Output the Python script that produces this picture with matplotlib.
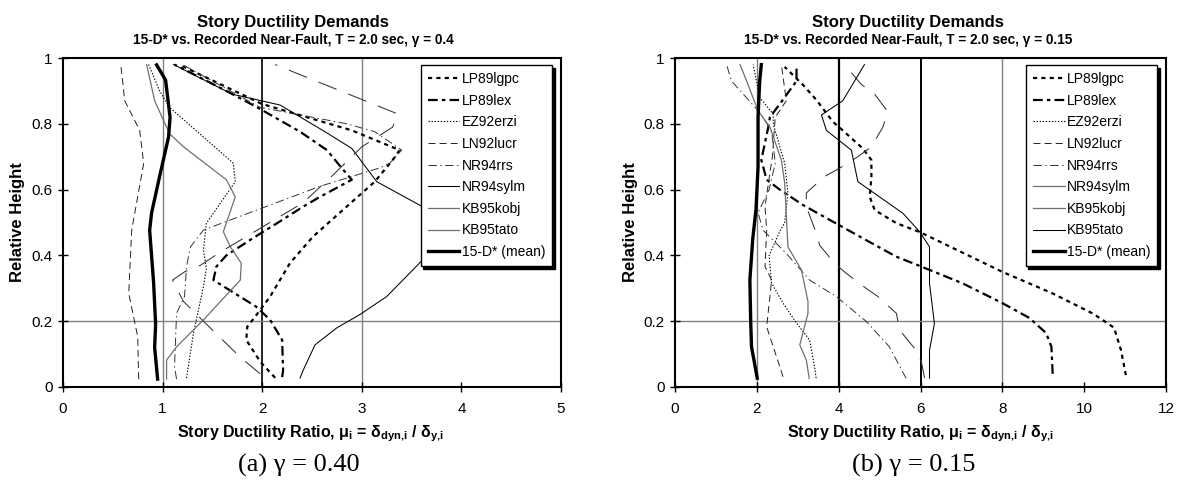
# story ductility demand profiles, two panels (gamma = 0.40 and 0.15)

import numpy as np
import matplotlib
matplotlib.use('Agg')
import matplotlib.pyplot as plt
from matplotlib.lines import Line2D

plt.rcParams['font.family'] = ['Liberation Sans', 'DejaVu Sans']
plt.rcParams['lines.scale_dashes'] = False
plt.rcParams['mathtext.fontset'] = 'custom'
plt.rcParams['mathtext.rm'] = 'Liberation Sans'
plt.rcParams['mathtext.bf'] = 'Liberation Sans:bold'

records = ['LP89lgpc', 'LP89lex', 'EZ92erzi', 'LN92lucr', 'NR94rrs',
           'NR94sylm', 'KB95kobj', 'KB95tato', '15-D* (mean)']

# ---- panel (a), gamma = 0.40 : ductility ratio (mu) vs relative height (h)
a_lgpc_mu = [2.13, 1.98, 1.84, 1.85, 1.98, 2.08, 2.28, 2.51, 2.78, 3.13, 3.31, 3.38, 2.9, 2.0, 1.2]
a_lgpc_h = [0.028, 0.077, 0.143, 0.183, 0.234, 0.275, 0.377, 0.457, 0.53, 0.624, 0.69, 0.72, 0.78, 0.86, 0.975]
a_lex_mu = [2.2, 2.21, 2.2, 2.08, 1.94, 1.51, 1.54, 1.64, 1.91, 2.15, 2.41, 2.58, 2.9, 2.8, 2.65, 2.38, 1.95, 1.64, 1.12]
a_lex_h = [0.03, 0.05, 0.143, 0.204, 0.244, 0.325, 0.366, 0.40, 0.453, 0.498, 0.548, 0.578, 0.63, 0.665, 0.72, 0.776, 0.85, 0.9, 0.98]
a_erzi_mu = [1.24, 1.31, 1.41, 1.44, 1.41, 1.44, 1.73, 1.71, 1.07, 0.97, 0.86]
a_erzi_h = [0.027, 0.164, 0.305, 0.36, 0.416, 0.498, 0.624, 0.68, 0.85, 0.9, 0.98]
a_lucr_mu = [0.76, 0.75, 0.66, 0.69, 0.81, 0.77, 0.62, 0.58]
a_lucr_h = [0.024, 0.153, 0.285, 0.477, 0.68, 0.78, 0.87, 0.98]
a_rrs_mu = [1.14, 1.12, 1.14, 1.22, 1.24, 1.28, 1.41, 2.58, 3.18, 3.28, 3.4, 3.13, 2.85, 1.98, 1.2]
a_rrs_h = [0.024, 0.062, 0.224, 0.275, 0.366, 0.426, 0.477, 0.61, 0.666, 0.68, 0.72, 0.776, 0.80, 0.85, 0.98]
a_sylm_mu = [2.38, 2.41, 2.53, 2.75, 2.98, 3.25, 3.61, 4.3, 3.61, 3.15, 2.9, 2.63, 2.18, 1.7, 1.11]
a_sylm_h = [0.027, 0.05, 0.128, 0.18, 0.22, 0.275, 0.386, 0.47, 0.548, 0.624, 0.725, 0.776, 0.857, 0.89, 0.98]
a_kobj_mu = [1.04, 1.04, 1.14, 1.41, 1.78, 1.79, 1.68, 1.61, 1.73, 1.64, 1.21, 1.07, 0.92, 0.84]
a_kobj_h = [0.024, 0.082, 0.122, 0.204, 0.325, 0.376, 0.426, 0.472, 0.578, 0.63, 0.73, 0.77, 0.87, 0.98]
a_tato_mu = [1.98, 1.79, 1.68, 1.41, 1.21, 1.14, 1.1, 1.22, 1.38, 1.58, 2.41, 2.71, 3.0, 3.31, 3.36, 2.13]
a_tato_h = [0.04, 0.088, 0.12, 0.2, 0.26, 0.30, 0.325, 0.35, 0.37, 0.41, 0.56, 0.644, 0.73, 0.79, 0.83, 0.98]
a_mean_mu = [0.95, 0.92, 0.93, 0.91, 0.87, 0.89, 0.97, 1.06, 1.075, 1.03, 0.94]
a_mean_h = [0.024, 0.12, 0.19, 0.316, 0.477, 0.53, 0.64, 0.76, 0.82, 0.933, 0.979]

# ---- panel (b), gamma = 0.15
b_lgpc_mu = [11.02, 10.9, 10.73, 10.45, 10.2, 9.22, 8.0, 6.0, 5.41, 4.88, 4.76, 4.8, 4.8, 4.59, 4.1, 3.86, 3.46, 3.13, 2.68]
b_lgpc_h = [0.036, 0.112, 0.18, 0.204, 0.224, 0.285, 0.35, 0.47, 0.498, 0.538, 0.578, 0.64, 0.69, 0.725, 0.78, 0.806, 0.872, 0.918, 0.973]
b_lex_mu = [9.23, 9.2, 9.07, 8.66, 8.0, 7.03, 5.98, 5.41, 4.59, 3.78, 3.13, 2.56, 2.24, 2.11, 2.28, 2.32, 2.56, 2.97, 2.97]
b_lex_h = [0.04, 0.122, 0.164, 0.21, 0.255, 0.315, 0.368, 0.396, 0.452, 0.508, 0.553, 0.6, 0.63, 0.69, 0.79, 0.82, 0.86, 0.93, 0.98]
b_erzi_mu = [3.45, 3.41, 3.29, 2.97, 2.64, 2.36, 2.3, 2.55, 2.68, 2.76, 2.68, 2.4, 2.4, 2.07, 1.91]
b_erzi_h = [0.027, 0.062, 0.143, 0.194, 0.255, 0.316, 0.4, 0.47, 0.5, 0.59, 0.68, 0.8, 0.83, 0.88, 0.98]
b_lucr_mu = [2.64, 2.56, 2.24, 2.32, 2.36, 2.2, 2.24, 2.2, 2.38, 2.45, 2.72, 2.6]
b_lucr_h = [0.031, 0.062, 0.183, 0.275, 0.325, 0.366, 0.477, 0.55, 0.7, 0.82, 0.87, 0.98]
b_rrs_mu = [5.65, 5.24, 4.67, 3.94, 3.29, 2.72, 2.15, 2.03, 2.3, 2.45, 2.36, 2.03, 1.38, 1.26]
b_rrs_h = [0.026, 0.122, 0.2, 0.275, 0.325, 0.406, 0.477, 0.53, 0.6, 0.68, 0.78, 0.84, 0.93, 0.98]
b_sylm_mu = [3.28, 3.21, 3.05, 3.25, 3.25, 3.09, 2.76, 2.68, 2.6, 2.32, 2.03, 1.75, 1.59]
b_sylm_h = [0.026, 0.082, 0.128, 0.224, 0.26, 0.356, 0.426, 0.62, 0.69, 0.79, 0.84, 0.93, 0.98]
b_kobj_mu = [6.1, 6.02, 5.85, 5.49, 5.41, 4.96, 4.67, 4.19, 3.9, 3.54, 3.41, 3.21, 3.21, 3.66, 4.02, 4.47, 4.8, 5.08, 5.2, 4.88, 4.55, 4.19]
b_kobj_h = [0.027, 0.077, 0.118, 0.173, 0.224, 0.275, 0.3, 0.345, 0.376, 0.43, 0.482, 0.548, 0.59, 0.64, 0.665, 0.70, 0.73, 0.79, 0.837, 0.89, 0.92, 0.973]
b_tato_mu = [6.22, 6.22, 6.34, 6.22, 6.22, 5.98, 5.57, 4.47, 4.31, 3.7, 3.58, 4.1, 4.63]
b_tato_h = [0.027, 0.112, 0.193, 0.315, 0.426, 0.472, 0.528, 0.624, 0.72, 0.78, 0.827, 0.87, 0.98]
b_mean_mu = [2.01, 1.87, 1.85, 1.83, 1.9, 1.98, 2.03, 2.03, 2.07, 2.11]
b_mean_h = [0.027, 0.122, 0.2, 0.325, 0.45, 0.54, 0.67, 0.82, 0.93, 0.98]

# line styles
lgpc = dict(color='k', lw=1.6, ls=(0, (3, 3)))
lex = dict(color='k', lw=1.6, ls=(0, (7, 3, 2.5, 3)))
erzi = dict(color='k', lw=0.8, ls=(0, (1, 1.2)))
lucr = dict(color='#222222', lw=0.7, ls=(0, (5, 3)))
rrs = dict(color='#333333', lw=0.7, ls=(0, (6, 2.5, 1, 2.5)))
solid_k = dict(color='k', lw=0.75, ls='-')
solid_g = dict(color='#707070', lw=0.9, ls='-')
broken = dict(color='#333333', lw=0.75, ls=(0, (14, 9)))
mean = dict(color='k', lw=2.4, ls='-')


def panel(ax, curves, leg_styles, xmax, xticks, vlines):
    for x, c, w in vlines:
        ax.axvline(x, color=c, lw=w, zorder=1)
    ax.axhline(0.2, color='#808080', lw=1.0, zorder=1)
    for mu, h, st in curves:
        ax.plot(mu, h, zorder=3, **st)
    ax.set_xlim(0, xmax)
    ax.set_ylim(0, 1)
    ax.set_xticks(xticks)
    ax.set_xticklabels([str(t) for t in xticks])
    ax.set_yticks([0, 0.2, 0.4, 0.6, 0.8, 1])
    ax.set_yticklabels(['0', '0.2', '0.4', '0.6', '0.8', '1'])
    ax.tick_params(direction='inout', length=7, width=1, labelsize=11)
    ax.tick_params(axis='x', pad=7)
    ax.tick_params(axis='y', pad=4)
    for s in ax.spines.values():
        s.set_linewidth(1.5)
    handles = [Line2D([], [], **st) for st in leg_styles]
    leg = ax.legend(handles, records, loc='upper right',
                    bbox_to_anchor=(1 - 9 / 498, 1 - 7 / 329), borderaxespad=0,
                    fancybox=False, framealpha=1,
                    shadow={'facecolor': 'k', 'edgecolor': 'k', 'alpha': 1},
                    fontsize=10, handlelength=2.3, handletextpad=0.15,
                    labelspacing=0.55, borderpad=0.5)
    leg.get_frame().set_edgecolor('k')
    leg.get_frame().set_linewidth(1.0)
    leg.set_zorder(10)


fig = plt.figure(figsize=(11.79, 4.82), dpi=100)
W, H = 1179, 482
ax1 = fig.add_axes([63 / W, 1 - 387 / H, 498 / W, 329 / H])
ax2 = fig.add_axes([675 / W, 1 - 387 / H, 491 / W, 329 / H])

panel(ax1,
      [(a_lgpc_mu, a_lgpc_h, lgpc), (a_lex_mu, a_lex_h, lex),
       (a_erzi_mu, a_erzi_h, erzi), (a_lucr_mu, a_lucr_h, lucr),
       (a_rrs_mu, a_rrs_h, rrs), (a_sylm_mu, a_sylm_h, solid_k),
       (a_kobj_mu, a_kobj_h, solid_g), (a_tato_mu, a_tato_h, broken),
       (a_mean_mu, a_mean_h, mean)],
      [lgpc, lex, erzi, lucr, rrs, solid_k, solid_g, solid_g, mean],
      5, [0, 1, 2, 3, 4, 5],
      [(1, '#808080', 1.0), (2, 'k', 1.2), (3, '#808080', 1.0)])

panel(ax2,
      [(b_lgpc_mu, b_lgpc_h, lgpc), (b_lex_mu, b_lex_h, lex),
       (b_erzi_mu, b_erzi_h, erzi), (b_lucr_mu, b_lucr_h, lucr),
       (b_rrs_mu, b_rrs_h, rrs), (b_sylm_mu, b_sylm_h, solid_g),
       (b_kobj_mu, b_kobj_h, broken), (b_tato_mu, b_tato_h, solid_k),
       (b_mean_mu, b_mean_h, mean)],
      [lgpc, lex, erzi, lucr, rrs, solid_g, solid_g, solid_k, mean],
      12, [0, 2, 4, 6, 8, 10, 12],
      [(2, '#808080', 1.0), (4, 'k', 1.6), (6, 'k', 1.4), (8, '#808080', 1.0)])

xlab = 'Story Ductility Ratio, μ$_\\mathbf{i}$ = δ$_\\mathbf{dyn{,}i}$ / δ$_\\mathbf{y{,}i}$'
for cx, ylx, sub, cap in [(293, 18, 'γ = 0.4', '(a) γ = 0.40'),
                          (908, 630, 'γ = 0.15', '(b) γ = 0.15')]:
    fig.text(cx / W, 1 - 22 / H, 'Story Ductility Demands', ha='center', va='center',
             fontsize=12, fontweight='bold')
    fig.text(cx / W, 1 - 40 / H, '15-D* vs. Recorded Near-Fault, T = 2.0 sec, ' + sub,
             ha='center', va='center', fontsize=9.8, fontweight='bold')
    fig.text(ylx / W, 1 - 222 / H, 'Relative Height', ha='center', va='center',
             rotation=90, fontsize=12, fontweight='bold')
    fig.text((cx + 6) / W, 1 - 465 / H, cap, ha='center', va='center',
             fontsize=19, family='Liberation Serif')

fig.text(310 / W, 1 - 434 / H, xlab, ha='center', va='center',
         fontsize=11.5, fontweight='bold')
fig.text(920 / W, 1 - 434 / H, xlab, ha='center', va='center',
         fontsize=11.5, fontweight='bold')

fig.savefig('out.png', dpi=100)
